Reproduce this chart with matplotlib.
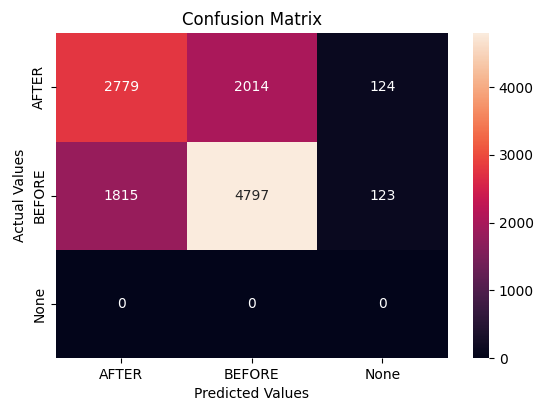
import matplotlib
matplotlib.use('Agg')
import matplotlib.pyplot as plt
import numpy as np
import seaborn as sns

labels = ['AFTER', 'BEFORE', 'None']
row_after = [2779, 2014, 124]
row_before = [1815, 4797, 123]
row_none = [0, 0, 0]

cm = np.array([row_after, row_before, row_none])

fig = plt.figure(figsize=(5.38, 4.08), dpi=100)
ax = fig.add_axes([0.1041, 0.1225, 0.728, 0.796])
cax = fig.add_axes([0.8797, 0.1225, 0.0292, 0.796])

sns.heatmap(cm, annot=True, fmt='d', ax=ax, cbar_ax=cax,
            xticklabels=labels, yticklabels=labels)
ax.set_title('Confusion Matrix')
ax.set_xlabel('Predicted Values')
ax.set_ylabel('Actual Values')

plt.savefig('out.png', dpi=100)
